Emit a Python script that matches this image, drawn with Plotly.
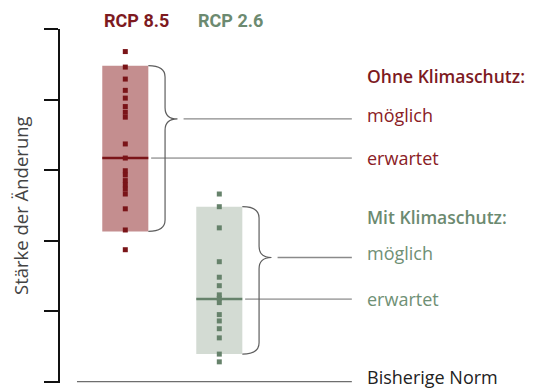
import plotly.graph_objects as go

# %% Data (strength of change, arbitrary units; 0 = bisherige Norm)

scenarios = ['RCP 8.5', 'RCP 2.6']
xpos = [1, 2]
box_low = [2.13, 0.39]
box_high = [4.48, 2.48]
median = [3.17, 1.17]
possible_level = [3.725, 1.76]
header_level = [4.33, 2.34]

models_85 = [4.68, 4.46, 4.29, 4.13, 4.02, 3.90, 3.82, 3.75, 3.37, 3.17,
             2.99, 2.93, 2.85, 2.79, 2.73, 2.66, 2.45, 2.15, 1.87]
models_26 = [2.66, 2.48, 2.18, 1.70, 1.48, 1.36, 1.23, 1.18, 1.12, 0.95,
             0.86, 0.75, 0.62, 0.39, 0.28]

headers = ['Ohne Klimaschutz:', 'Mit Klimaschutz:']
label_possible = 'möglich'
label_expected = 'erwartet'
label_norm = 'Bisherige Norm'
ytitle = 'Stärke der Änderung'

# %% Styles

dark = ['#7a1418', '#66826b']
fill = ['#c48e8f', '#d3dbd3']
text_col = ['#8a2025', '#6f9075']
head_col = ['#7d1a1f', '#6c8a70']
grey = '#6e6e6e'
half_w = 0.245
x_label = 3.55
x_line_end = 3.41

fig = go.Figure()

for i, x in enumerate(xpos):
    fig.add_trace(go.Bar(x=[x], y=[box_high[i] - box_low[i]], base=[box_low[i]],
                         width=half_w * 2, marker_color=fill[i],
                         marker_line_width=0, hoverinfo='skip'))

# connector lines to labels
for i, x in enumerate(xpos):
    fig.add_trace(go.Scatter(x=[x + half_w + 0.03, x_line_end], y=[median[i]] * 2,
                             mode='lines', line=dict(color=grey, width=1)))
    fig.add_trace(go.Scatter(x=[x + half_w + 0.375, x_line_end],
                             y=[possible_level[i]] * 2, mode='lines',
                             line=dict(color='#8a8a8a', width=1.3)))

# baseline
fig.add_trace(go.Scatter(x=[0.486, x_line_end], y=[0, 0], mode='lines',
                         line=dict(color=grey, width=1.3)))

# medians
for i, x in enumerate(xpos):
    fig.add_trace(go.Scatter(x=[x - half_w, x + half_w], y=[median[i]] * 2,
                             mode='lines', line=dict(color=dark[i], width=2.5)))

# model dots
for i, vals in enumerate([models_85, models_26]):
    fig.add_trace(go.Scatter(x=[xpos[i]] * len(vals), y=vals, mode='markers',
                             marker=dict(symbol='square', size=5, color=dark[i],
                                         line_width=0),
                             cliponaxis=False))

# curly braces
def brace(x0, ylo, yhi, ytip, r=0.16, dx=0.178, dt=0.31):
    xm, xt = x0 + dx, x0 + dt
    return (f'M {x0},{yhi} Q {xm},{yhi} {xm},{yhi - r} '
            f'L {xm},{ytip + r} Q {xm},{ytip} {xt},{ytip} '
            f'Q {xm},{ytip} {xm},{ytip - r} '
            f'L {xm},{ylo + r} Q {xm},{ylo} {x0},{ylo}')

for i, x in enumerate(xpos):
    fig.add_shape(type='path', xref='x', yref='y',
                  path=brace(x + half_w, box_low[i], box_high[i], possible_level[i]),
                  line=dict(color='#5e5e5e', width=1.2))

# texts
ann = []
for i, x in enumerate(xpos):
    ann.append(dict(x=x + 0.12, y=1.024, xref='x', yref='paper', text=f'<b>{scenarios[i]}</b>',
                    showarrow=False, xanchor='center', yanchor='middle',
                    font=dict(family='Roboto', size=18, color=head_col[i])))
    ann.append(dict(x=x_label, y=header_level[i], text=headers[i],
                    showarrow=False, xanchor='left', yanchor='middle',
                    font=dict(family='Open Sans', size=17.5, weight=600,
                              color=head_col[i])))
    ann.append(dict(x=x_label, y=possible_level[i] + 0.06, text=label_possible,
                    showarrow=False, xanchor='left', yanchor='middle',
                    font=dict(family='Open Sans', size=18, color=text_col[i])))
    ann.append(dict(x=x_label, y=median[i], text=label_expected,
                    showarrow=False, xanchor='left', yanchor='middle',
                    font=dict(family='Open Sans', size=18, color=text_col[i])))
ann.append(dict(x=x_label, y=0.06, text=label_norm, showarrow=False,
                xanchor='left', yanchor='middle',
                font=dict(family='Open Sans', size=18, color='#222222')))
ann.append(dict(x=0, y=0.5, xref='paper', yref='paper', text=ytitle,
                textangle=-90, showarrow=False, xanchor='center', yanchor='middle',
                xshift=-40, borderpad=0,
                font=dict(family='Open Sans', size=18.5, color='#444444')))

# page body adds an 8px offset, so the figure is 8px smaller than the window
fig.update_layout(
    width=531, height=381,
    margin=dict(l=52, r=0, t=21, b=6),
    paper_bgcolor='white', plot_bgcolor='white',
    showlegend=False, barmode='overlay',
    annotations=ann,
    xaxis=dict(range=[0.3053, 5.401], visible=False, fixedrange=True),
    yaxis=dict(range=[-0.02, 5], tickvals=[0, 1, 2, 3, 4, 5], ticks='outside',
               ticklen=14, tickwidth=1.5, tickcolor='#111111',
               showline=True, linecolor='#111111', linewidth=1.5,
               showticklabels=False, showgrid=False, zeroline=False,
               fixedrange=True),
)

fig.write_html("out.html")
